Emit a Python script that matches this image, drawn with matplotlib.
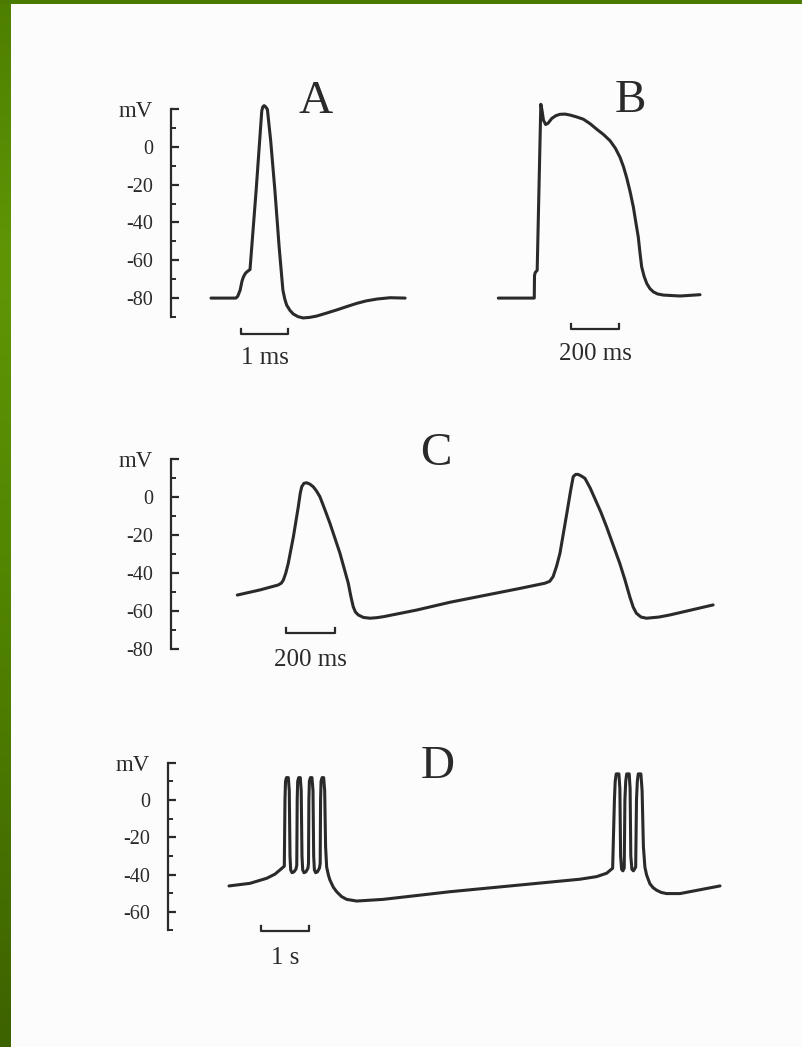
import numpy as np
import matplotlib
matplotlib.use("Agg")
import matplotlib.pyplot as plt
from matplotlib.patches import Rectangle

# ---------------- data ----------------
# Panel A: nerve action potential, time in ms, voltage in mV
A_t = [0, 0.53, 0.57, 0.62, 0.66, 0.69, 0.73, 0.76, 0.83, 0.96, 1.08, 1.10, 1.13, 1.16, 1.20,
       1.27, 1.36, 1.45, 1.53, 1.57, 1.61, 1.68, 1.75, 1.85, 1.96, 2.10, 2.25, 2.45, 2.67,
       2.90, 3.10, 3.30, 3.53, 3.81, 4.13]
A_v = [-80, -80, -79, -75.8, -71, -68.8, -67, -66.2, -64.9, -23.2, 18.9, 21, 21.8, 21.2, 19.8,
       3.2, -23.2, -53, -75.8, -80.5, -83.7, -86.5, -88.4, -89.8, -90.5, -90.2, -89.5, -88,
       -86.3, -84.4, -82.8, -81.5, -80.5, -79.8, -80]

# Panel B: cardiac action potential, time in ms
B_t = [0, 148, 149, 152, 160, 175, 179, 186, 195, 205, 220, 237, 254, 275, 295, 320, 350,
       378, 405, 433, 460, 482, 501, 515, 528, 542, 556, 566, 576, 583, 590, 600, 611, 624,
       638, 655, 679, 748, 830]
B_v = [-80, -80, -68, -66.5, -65.3, 22.5, 20, 14, 11.8, 12.5, 15, 16.5, 17.2, 17.3, 16.8,
       15.9, 14.6, 12.2, 9.3, 6.5, 3.2, -0.8, -5.6, -10.5, -16.2, -23.5, -32, -40, -47.7,
       -56, -63.5, -68.5, -72.3, -75, -76.7, -77.8, -78.4, -78.9, -78.2]

# Panel C: pacemaker potentials, time in ms
C_t = [0, 93, 167, 180, 188, 198, 208, 229, 249, 257, 263, 272, 283, 296, 310, 323, 337,
       357, 378, 398, 419, 436, 453, 463, 473, 482, 494, 515, 542, 570, 596, 732, 868, 1154,
       1255, 1275, 1289, 1303, 1317, 1345, 1360, 1371, 1381, 1391, 1405, 1419, 1440, 1459,
       1484, 1507, 1561, 1582, 1602, 1616, 1629, 1648, 1670, 1720, 1765, 1942]
C_v = [-51.6, -48.9, -46.3, -45.3, -43.7, -40, -34.9, -20.9, -5.1, 2, 5.4, 7.2, 7.5, 6.8,
       5.4, 3.2, 0.2, -6.5, -13.8, -21.5, -29.6, -37.5, -45.4, -52, -57.7, -60.5, -62.1,
       -63.4, -63.8, -63.5, -63.0, -59.5, -55.4, -48.1,
       -45.4, -44.4, -41.9, -36.5, -29.6, -8.6, 3, 10.7, 11.9, 11.9, 11, 9.8, 4.8, -0.7,
       -8, -15.6, -34.9, -43.5, -52.5, -58, -61.2, -63.2, -63.8, -63.2, -62.1, -56.8]

# Panel D: bursting, time in s
D_t = [0, 0.435, 0.780, 0.950, 1.056, 1.145,
       1.159, 1.170, 1.190, 1.228, 1.248, 1.263, 1.277, 1.304, 1.346, 1.387, 1.403,
       1.412, 1.422, 1.443, 1.476, 1.495, 1.511, 1.526, 1.553, 1.594, 1.635, 1.646,
       1.654, 1.664, 1.685, 1.718, 1.739, 1.753, 1.768, 1.795, 1.832, 1.873, 1.888,
       1.896, 1.906, 1.927, 1.960, 1.981, 2.000, 2.022, 2.060, 2.091, 2.160, 2.229, 2.330,
       2.436, 2.643, 3.194, 4.575,
       7.266, 7.611, 7.818, 7.943,
       7.980, 7.996, 8.017, 8.073, 8.093, 8.108, 8.129, 8.156, 8.183,
       8.197, 8.214, 8.234, 8.286, 8.305, 8.319, 8.342, 8.373, 8.420,
       8.437, 8.454, 8.474, 8.528, 8.553, 8.580, 8.611, 8.646, 8.714, 8.780, 8.853, 8.950,
       9.060, 9.337, 10.166]
D_v = [-46.1, -44.7, -42.0, -39.8, -37.5, -35.5,
       0, 10, 12, 12, 5, -30, -37.5, -39, -38.5, -37, -35,
       0, 10, 12, 12, 5, -30, -37.5, -39, -38.5, -36.5, -34,
       0, 10, 12, 12, 5, -30, -37.5, -39, -38.5, -36.5, -34,
       0, 10, 12, 12, 5, -25, -36, -40.5, -43, -46.8, -49.2, -51.8,
       -53.3, -54.2, -53.3, -49.2,
       -42.5, -41.1, -39.3, -36.6,
       0, 10, 14, 14, 6, -30, -37.2, -38, -36.5,
       0, 10, 14, 14, 6, -30, -37.2, -38, -36,
       0, 10, 14, 14, 5, -25, -36, -40.2, -44.9, -47, -48.4, -49.6,
       -50.2, -50.2, -46.1]

panel_letters = ["A", "B", "C", "D"]
ytick_labels = ["-80", "-60", "-40", "-20", "0"]
scale_labels = ["1 ms", "200 ms", "200 ms", "1 s"]
scale_lengths = [1.0, 200.0, 200.0, 1.0]

# ---------------- figure ----------------
W, H = 802, 1047
fig = plt.figure(figsize=(W / 100, H / 100), dpi=100)
fig.patch.set_facecolor("#fcfcfc")
INK = "#2a2a2a"
SERIF = ["Liberation Serif", "DejaVu Serif"]


def px_axes(left, right, top, bottom):
    return fig.add_axes([left / W, 1 - bottom / H, (right - left) / W, (bottom - top) / H])


def style_axis(ax, show_spine, ylo, yhi, majors, minors, labels):
    for s in ["top", "right", "bottom"]:
        ax.spines[s].set_visible(False)
    ax.set_facecolor("none")
    ax.set_xticks([])
    ax.set_ylim(ylo, yhi)
    if not show_spine:
        ax.spines["left"].set_visible(False)
        ax.set_yticks([])
        return
    ax.spines["left"].set_linewidth(1.6)
    ax.spines["left"].set_color(INK)
    ax.set_yticks(majors)
    ax.set_yticklabels(labels, family=SERIF, fontsize=14.5, color=INK)
    ax.set_yticks(minors, minor=True)
    ax.tick_params(axis="y", which="major", direction="in", length=6, width=1.6,
                   color=INK, pad=13)
    ax.tick_params(axis="y", which="minor", direction="in", length=3.5, width=1.4,
                   color=INK)
    lab = ax.get_yticklabels()[-1]
    lab.set_fontsize(16.5)


def trace(ax, t, v):
    ax.plot(t, v, color=INK, lw=2.2, solid_joinstyle="round", solid_capstyle="round",
            clip_on=False)


def scalebar(ax, t0, length, v, dv, label, vlab):
    ax.plot([t0, t0, t0 + length, t0 + length], [v + dv, v, v, v + dv], color=INK,
            lw=1.6, clip_on=False)
    ax.text(t0 + length / 2, vlab, label, ha="center", va="center", family=SERIF,
            fontsize=18, color=INK, clip_on=False)


# Panel A
axA = px_axes(171, 420, 109, 317)
axA.set_xlim(-0.851, 4.447)
style_axis(axA, True, -90, 20, [-80, -60, -40, -20, 0, 20], [-90, -70, -50, -30, -10, 10],
           ytick_labels + ["mV"])
trace(axA, A_t, A_v)
scalebar(axA, 0.64, scale_lengths[0], -99, 2.5, scale_labels[0], -111.5)

# Panel B
axB = px_axes(480, 720, 109, 317)
axB.set_xlim(-75.3, 912.3)
style_axis(axB, False, -90, 20, [], [], [])
trace(axB, B_t, B_v)
scalebar(axB, 298, scale_lengths[1], -96.3, 2.5, scale_labels[1], -109.5)

# Panel C
axC = px_axes(171, 730, 459, 649)
axC.set_xlim(-270.6, 2011)
style_axis(axC, True, -80, 20, [-80, -60, -40, -20, 0, 20], [-70, -50, -30, -10, 10],
           ytick_labels + ["mV"])
trace(axC, C_t, C_v)
scalebar(axC, 199, scale_lengths[2], -71.6, 2.5, scale_labels[2], -85.8)

# Panel D
axD = px_axes(168, 730, 762.7, 930.5)
axD.set_xlim(-1.263, 10.373)
style_axis(axD, True, -70, 20, [-60, -40, -20, 0, 20], [-70, -50, -30, -10, 10],
           ytick_labels[1:] + ["mV"])
trace(axD, D_t, D_v)
scalebar(axD, 0.656, scale_lengths[3], -70.3, 2.5, scale_labels[3], -84.7)

# panel letters
for letter, (x, y) in zip(panel_letters, [(316, 113), (630, 112), (436, 465), (438, 778)]):
    fig.text(x / W, 1 - y / H, letter, ha="center", va="baseline", family=SERIF,
             fontsize=34, color=INK)

# green frame (slide decoration)
fig.patches.append(Rectangle((0, 1 - 4 / H), 1, 4 / H, transform=fig.transFigure,
                             facecolor="#4b7a00", edgecolor="none", zorder=5))
axG = fig.add_axes([0, 0, 11 / W, 1])
axG.set_axis_off()
stops = np.array([0.0, 0.25, 0.6, 1.0])
cols = np.array([[0x4e, 0x7f, 0x00], [0x60, 0x96, 0x06], [0x50, 0x82, 0x00], [0x3d, 0x62, 0x00]]) / 255
yy = np.linspace(0, 1, 256)
grad = np.stack([np.interp(yy, stops, cols[:, k]) for k in range(3)], axis=1)
axG.imshow(grad[:, None, :], aspect="auto", extent=[0, 1, 1, 0])

fig.savefig("out.png", dpi=100, facecolor=fig.get_facecolor())
